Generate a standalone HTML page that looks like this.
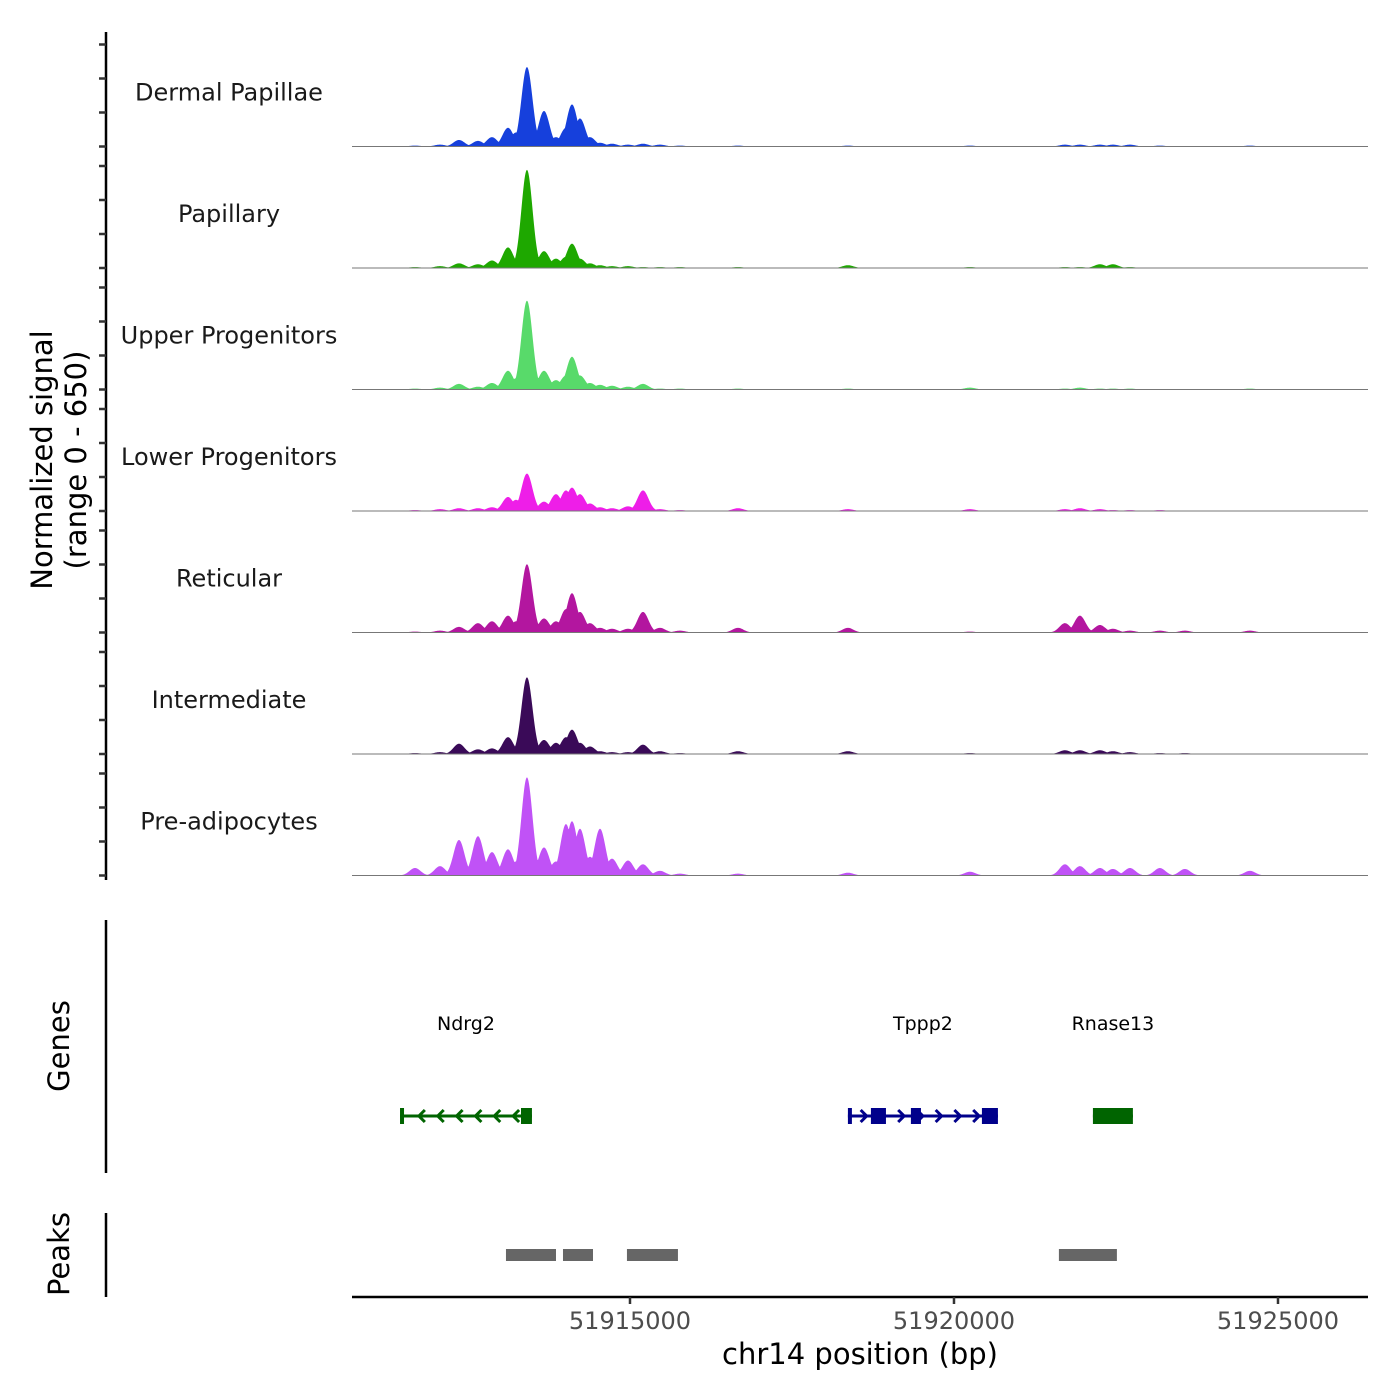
<!DOCTYPE html>
<html><head><meta charset="utf-8"><style>
html,body{margin:0;padding:0;background:#fff}
svg{display:block;font-family:"DejaVu Sans","Liberation Sans",sans-serif}
</style></head><body>
<svg id="c" width="1400" height="1400" viewBox="0 0 1400 1400" xmlns="http://www.w3.org/2000/svg">
<g id="tracks"></g>
<g id="yaxis">
 <line x1="106" y1="32" x2="106" y2="880" stroke="#000" stroke-width="2.5"/>
 <text transform="translate(52,460) rotate(-90)" text-anchor="middle" font-size="29" fill="#000">Normalized signal</text>
 <text transform="translate(86,460) rotate(-90)" text-anchor="middle" font-size="29" fill="#000">(range 0 - 650)</text>
</g>
<g>
 <line x1="106" y1="920" x2="106" y2="1173" stroke="#000" stroke-width="2.5"/>
 <text transform="translate(69,1046) rotate(-90)" text-anchor="middle" font-size="29" fill="#000">Genes</text>
 <g id="genes"></g>
</g>
<g>
 <line x1="106" y1="1213" x2="106" y2="1297" stroke="#000" stroke-width="2.5"/>
 <text transform="translate(69,1254) rotate(-90)" text-anchor="middle" font-size="29" fill="#000">Peaks</text>
 <g id="peaks"></g>
</g>
<g id="xaxis">
 <line x1="352" y1="1297" x2="1368" y2="1297" stroke="#000" stroke-width="2.5"/>
 <text x="860" y="1364" text-anchor="middle" font-size="29" fill="#000">chr14 position (bp)</text>
</g>
</svg>
<script>
const xMin = 51910710, xMax = 51926389;
const trackNames = ["Dermal Papillae","Papillary","Upper Progenitors","Lower Progenitors","Reticular","Intermediate","Pre-adipocytes"];
const trackColors = ["#1640dc","#1ea800","#58da6a","#ee1ee8","#b3169f","#3a0a58","#c052f6"];
const peakPositions = [51911682,51912068,51912361,51912654,51912870,51913117,51913241,51913410,51913673,51913858,51914012,51914105,51914228,51914382,51914537,51914722,51914969,51915200,51915462,51915771,51916666,51918363,51920246,51921712,51921943,51922252,51922452,51922715,51923177,51923563,51924566];
const sigDP  = [5,10,35,30,50,100,75,425,190,50,100,225,150,50,20,15,10,15,10,5,5,5,5,10,10,10,10,10,5,0,5];
const sigPap = [5,10,25,20,40,110,40,525,90,50,60,130,50,25,15,10,10,5,5,5,5,15,5,5,5,20,20,5,0,0,0];
const sigUp  = [5,10,30,15,35,100,60,475,100,50,75,175,75,35,25,20,15,30,5,5,5,5,10,5,10,5,5,5,0,0,5];
const sigLow = [5,10,15,15,20,75,60,200,50,90,110,125,90,40,20,15,25,110,10,5,15,10,10,10,15,10,5,5,5,0,0];
const sigRet = [5,10,30,50,60,90,60,365,75,60,125,210,110,50,25,20,20,110,25,10,25,25,5,50,90,40,20,10,10,10,10];
const sigInt = [5,10,55,25,30,90,40,410,75,60,90,130,60,40,15,10,10,50,15,5,15,15,5,20,20,20,15,10,5,5,0];
const sigPre = [40,50,190,210,125,140,75,525,150,75,275,290,250,100,250,90,80,60,25,10,10,15,20,60,50,40,35,40,40,35,25];
const trackSignals = [sigDP,sigPap,sigUp,sigLow,sigRet,sigInt,sigPre];
const tickLabels = ["51915000","51920000","51925000"];
const tickValues = [51915000,51920000,51925000];
const genePlus = ["Ndrg2","Tppp2","Rnase13"];
const geneStart = [51911451,51918363,51922144];
const geneEnd = [51913487,51920678,51922761];
const geneStrand = [-1,1,-1];
const exonStarts = [[51911451,51913318],[51918363,51918718,51919335,51920431],[51922144]];
const exonEnds = [[51911510,51913487],[51918420,51918950,51919490,51920678],[51922761]];
const peakStarts = [51913086,51913966,51914953,51921619];
const peakEnds = [51913858,51914429,51915740,51922514];

const NS="http://www.w3.org/2000/svg";
const X0=352,X1=1368;
const sx=v=>X0+(v-xMin)/(xMax-xMin)*(X1-X0);
const trackH=121.5, firstBase=146.5, yMax=650;
const sy=(v,i)=>firstBase+i*trackH - v/yMax*trackH;
function mk(tag,attrs,parent){const e=document.createElementNS(NS,tag);for(const k in attrs)e.setAttribute(k,attrs[k]);parent.appendChild(e);return e;}
const tracksG=document.getElementById('tracks');
const yG=document.getElementById('yaxis');
const sigma=85;
trackSignals.forEach((sig,i)=>{
  const base=firstBase+i*trackH;
  let d=`M${X0},${base}`;
  for(let px=395;px<=1335;px+=0.5){
    const bp=xMin+(px-X0)/(X1-X0)*(xMax-xMin);
    let v=0;
    for(let k=0;k<peakPositions.length;k++){const z=(bp-peakPositions[k])/sigma;const s=sig[k]*Math.exp(-z*z/2);if(s>v)v=s;}
    d+=`L${px},${sy(v,i).toFixed(2)}`;
  }
  d+=`L1335,${base}Z`;
  const p=mk('path',{d:d,fill:trackColors[i]},tracksG);
  
  
  const bl=mk('line',{x1:X0,y1:base,x2:X1,y2:base,stroke:'#777','stroke-width':1},tracksG);
  
  
  const t=mk('text',{x:229,y:base-46,'text-anchor':'middle','font-size':24,fill:'#1a1a1a'},tracksG);
  t.textContent=trackNames[i];
  
  
  for(let k=0;k<4;k++){
    const ty=base-k*34;
    const tk=mk('line',{x1:99,y1:ty,x2:106,y2:ty,stroke:'#333','stroke-width':2.5},yG);
    
    
  }
});
const xG=document.getElementById('xaxis');
tickValues.forEach((v,i)=>{
  const x=sx(v);
  const tk=mk('line',{x1:x,y1:1297,x2:x,y2:1304,stroke:'#333','stroke-width':2.5},xG);
  
  
  const t=mk('text',{x:x,y:1329,'text-anchor':'middle','font-size':24,fill:'#4d4d4d'},xG);
  t.textContent=tickLabels[i];
  
  
});
const gG=document.getElementById('genes');
const geneColors=["#006400","#00008b","#006400"];
genePlus.forEach((g,i)=>{
  const c=geneColors[i], y=1116;
  const x0=sx(geneStart[i]), x1=sx(geneEnd[i]);
  const grp=mk('g',{},gG);
  
  
  mk('line',{x1:x0,y1:y,x2:x1,y2:y,stroke:c,'stroke-width':3},grp);
  const n=Math.floor((x1-x0)/18);
  for(let k=1;k<n;k++){
    const ax=x0+k*(x1-x0)/n, dd=6*geneStrand[i];
    mk('path',{d:`M${ax-dd},${y-6}L${ax},${y}L${ax-dd},${y+6}`,fill:'none',stroke:c,'stroke-width':3},grp);
  }
  exonStarts[i].forEach((s,k)=>{
    const ex0=sx(s), ex1=sx(exonEnds[i][k]);
    const r=mk('rect',{x:ex0,y:y-8,width:Math.max(4,ex1-ex0),height:16,fill:c},grp);
    
    
  });
  const t=mk('text',{x:(x0+x1)/2,y:1030,'text-anchor':'middle','font-size':19,fill:'#000'},grp);
  t.textContent=g;
  
  
});
const pG=document.getElementById('peaks');
peakStarts.forEach((s,i)=>{
  const r=mk('rect',{x:sx(s),y:1249,width:sx(peakEnds[i])-sx(s),height:12,fill:'#666'},pG);
  
  
});
</script>
</body></html>
